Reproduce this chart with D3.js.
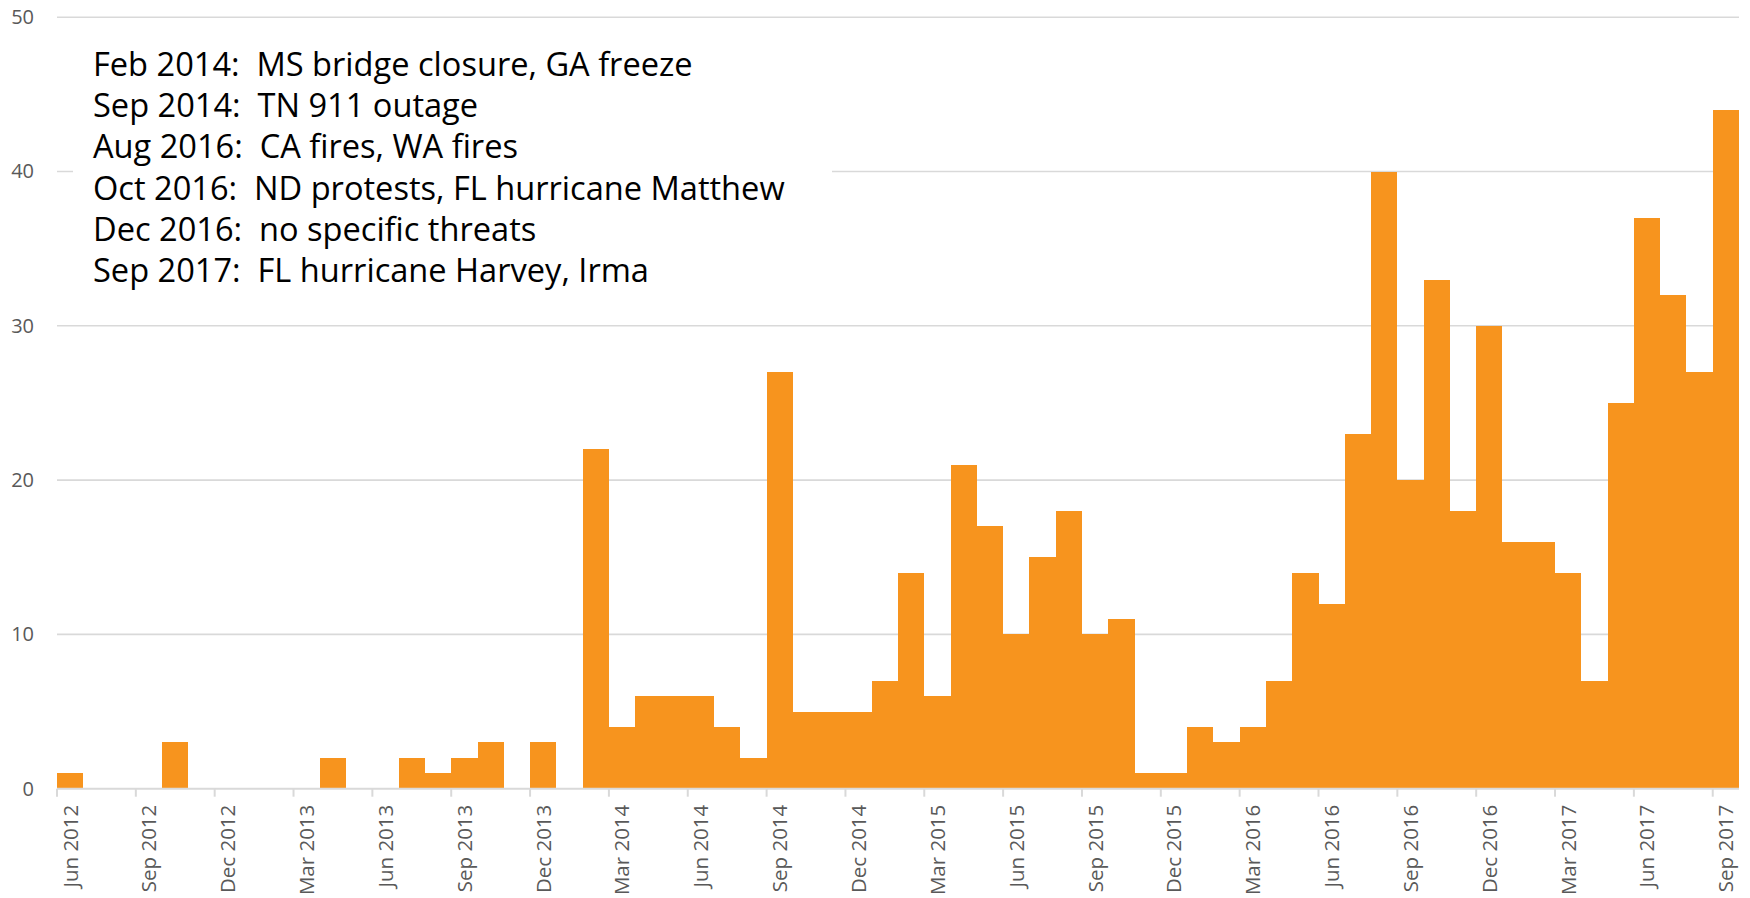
<!DOCTYPE html>
<html>
<head>
<meta charset="utf-8">
<script src="https://cdn.jsdelivr.net/npm/d3@7/dist/d3.min.js"></script>
<style>
  html, body { margin: 0; padding: 0; background: #ffffff; }
  svg { display: block; }
  .note { white-space: pre; }
</style>
</head>
<body>
<svg id="chart" width="1750" height="898"></svg>
<script>
// Monthly counts, Jun 2012 through Sep 2017
const months = [
  "Jun 2012","Jul 2012","Aug 2012","Sep 2012","Oct 2012","Nov 2012","Dec 2012",
  "Jan 2013","Feb 2013","Mar 2013","Apr 2013","May 2013","Jun 2013","Jul 2013","Aug 2013","Sep 2013","Oct 2013","Nov 2013","Dec 2013",
  "Jan 2014","Feb 2014","Mar 2014","Apr 2014","May 2014","Jun 2014","Jul 2014","Aug 2014","Sep 2014","Oct 2014","Nov 2014","Dec 2014",
  "Jan 2015","Feb 2015","Mar 2015","Apr 2015","May 2015","Jun 2015","Jul 2015","Aug 2015","Sep 2015","Oct 2015","Nov 2015","Dec 2015",
  "Jan 2016","Feb 2016","Mar 2016","Apr 2016","May 2016","Jun 2016","Jul 2016","Aug 2016","Sep 2016","Oct 2016","Nov 2016","Dec 2016",
  "Jan 2017","Feb 2017","Mar 2017","Apr 2017","May 2017","Jun 2017","Jul 2017","Aug 2017","Sep 2017"
];

const counts = [
  1, 0, 0, 0, 3, 0, 0,
  0, 0, 0, 2, 0, 0, 2, 1, 2, 3, 0, 3,
  0, 22, 4, 6, 6, 6, 4, 2, 27, 5, 5, 5,
  7, 14, 6, 21, 17, 10, 15, 18, 10, 11, 1, 1,
  4, 3, 4, 7, 14, 12, 23, 40, 20, 33, 18, 30,
  16, 16, 14, 7, 25, 37, 32, 27, 44
];

// Every third month gets a label
const tickLabels = months.filter((m, i) => i % 3 === 0);

const yTicks = [0, 10, 20, 30, 40, 50];

const notes = [
  "Feb 2014:  MS bridge closure, GA freeze",
  "Sep 2014:  TN 911 outage",
  "Aug 2016:  CA fires, WA fires",
  "Oct 2016:  ND protests, FL hurricane Matthew",
  "Dec 2016:  no specific threats",
  "Sep 2017:  FL hurricane Harvey, Irma"
];

const svg = d3.select("#chart");
const plot = { left: 57, right: 1739, top: 17.2, bottom: 788.7 };

const x = d3.scaleBand().domain(months).range([plot.left, plot.right]).padding(0);
const y = d3.scaleLinear().domain([0, 50]).range([plot.bottom, plot.top]);

const gridColor = "#d9d9d9";
const labelColor = "#595959";
const labelFont = "'Open Sans', 'Noto Sans', sans-serif";
const barColor = "#F7941E";

// Horizontal gridlines
svg.append("g")
  .selectAll("line")
  .data(yTicks.filter(t => t > 0))
  .join("line")
  .attr("x1", plot.left)
  .attr("x2", plot.right)
  .attr("y1", d => y(d))
  .attr("y2", d => y(d))
  .attr("stroke", gridColor)
  .attr("stroke-width", 1.6);

// Y axis labels
const yAxis = d3.axisLeft(y).tickValues(yTicks).tickSize(0).tickPadding(23);
const gy = svg.append("g").attr("transform", `translate(${plot.left},0)`).call(yAxis);
gy.select(".domain").remove();
gy.selectAll("text")
  .attr("fill", labelColor)
  .style("font-family", labelFont)
  .style("font-size", "20px");

// Annotation box
const noteBox = svg.append("g");
noteBox.append("rect")
  .attr("x", 73).attr("y", 40)
  .attr("width", 759).attr("height", 262)
  .attr("fill", "#ffffff");

const noteText = noteBox.selectAll("text")
  .data(notes)
  .join("text")
  .attr("class", "note")
  .attr("x", 93)
  .attr("y", (d, i) => 76 + i * 41.2)
  .attr("fill", "#000000")
  .style("font-family", "'Open Sans', 'Noto Sans', sans-serif")
  .style("font-size", "27px")
  .text(d => d);

// Fit the longest line to its set width
const longest = noteText.filter((d, i) => i === 3).node();
const w = longest.getComputedTextLength();
const fs = 27 * 692 / w;
noteText.style("font-size", fs.toFixed(2) + "px");

// Bars, edge-snapped so neighbours meet without seams
svg.append("g")
  .attr("shape-rendering", "crispEdges")
  .selectAll("rect")
  .data(months.map((m, i) => ({ month: m, value: counts[i] })))
  .join("rect")
  .attr("x", d => x(d.month))
  .attr("y", d => y(d.value))
  .attr("width", x.bandwidth())
  .attr("height", d => y(0) - y(d.value))
  .attr("fill", barColor);

// X axis baseline, ticks at month boundaries and rotated labels
const xAxis = d3.axisBottom(x).tickValues(tickLabels).tickSize(0).tickFormat(d => d);
const gx = svg.append("g").attr("transform", `translate(0,${plot.bottom})`).call(xAxis);
gx.select(".domain").attr("stroke", gridColor).attr("stroke-width", 2).attr("d", `M${plot.left},0H${plot.right}`);
gx.selectAll(".tick line").remove();
gx.selectAll(".tick text")
  .attr("fill", labelColor)
  .style("font-family", labelFont)
  .style("font-size", "20.5px")
  .attr("transform", "rotate(-90)")
  .attr("text-anchor", "end")
  .attr("x", -16)
  .attr("y", 0)
  .attr("dy", "0.36em");

gx.selectAll(".tick-mark")
  .data(tickLabels)
  .join("line")
  .attr("class", "tick-mark")
  .attr("x1", d => x(d))
  .attr("x2", d => x(d))
  .attr("y1", 0)
  .attr("y2", 8)
  .attr("stroke", gridColor)
  .attr("stroke-width", 2);
</script>
</body>
</html>
